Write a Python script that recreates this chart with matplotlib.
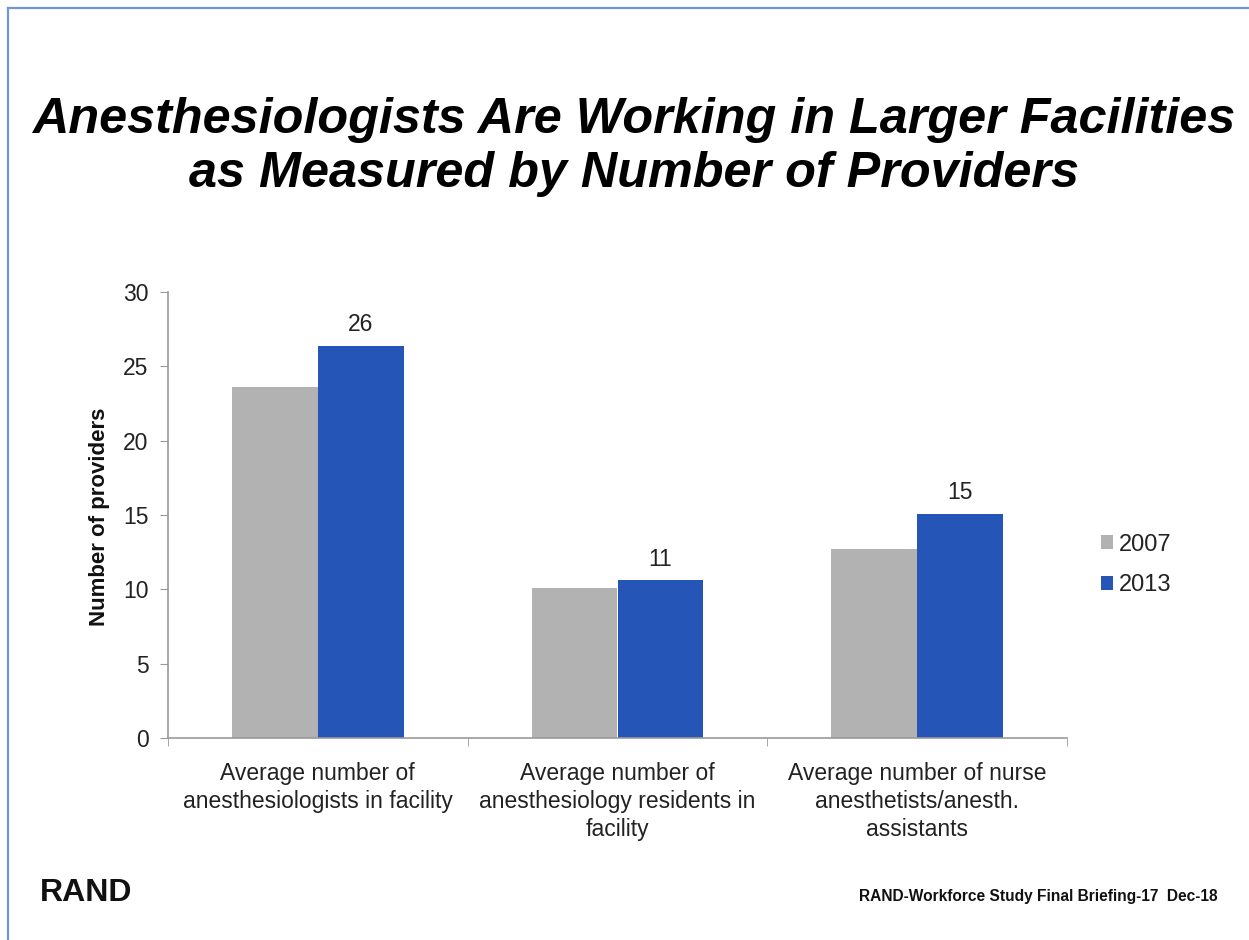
import matplotlib
matplotlib.use("Agg")
import matplotlib.pyplot as plt
from matplotlib.lines import Line2D
import numpy as np

plt.rcParams['font.family'] = ['Liberation Sans', 'DejaVu Sans']

categories = ["Average number of\nanesthesiologists in facility",
              "Average number of\nanesthesiology residents in\nfacility",
              "Average number of nurse\nanesthetists/anesth.\nassistants"]
years = ["2007", "2013"]
vals_2007 = [23.6, 10.1, 12.7]
vals_2013 = [26.4, 10.6, 15.1]
labels_2013 = ["26", "11", "15"]

gray = "#b2b2b2"
blue = "#2655b8"

fig = plt.figure(figsize=(12.49, 9.4), dpi=100)
ax = fig.add_axes([168 / 1249, 1 - 738 / 940, 899 / 1249, 446 / 940])

x = np.arange(len(categories))
w = 0.286
ax.bar(x - w / 2, vals_2007, w, color=gray, label=years[0])
b2 = ax.bar(x + w / 2, vals_2013, w, color=blue, label=years[1])
ax.bar_label(b2, labels=labels_2013, padding=7, fontsize=16.5, color="#222222")

ax.set_xlim(-0.5, 2.5)
ax.set_ylim(0, 30)
ax.set_yticks([0, 5, 10, 15, 20, 25, 30])
ax.set_xticks(x)
ax.set_xticklabels(categories, fontsize=16.5, color="#222222", linespacing=1.3)
ax.set_xticks([-0.5, 0.5, 1.5, 2.5], minor=True)
ax.tick_params(axis='x', which='major', length=0, pad=17)
ax.tick_params(axis='x', which='minor', length=6, color="#999999", direction='out')
ax.tick_params(axis='y', length=6, color="#999999", labelsize=16.5, labelcolor="#222222", pad=8)

for s in ["top", "right"]:
    ax.spines[s].set_visible(False)
for s in ["left", "bottom"]:
    ax.spines[s].set_color("#999999")
    ax.spines[s].set_linewidth(1.2)

ax.set_ylabel("Number of providers", fontsize=16, fontweight="bold", color="#111111")
ax.yaxis.set_label_coords(-0.064, 0.495)

leg = ax.legend(loc="center left", bbox_to_anchor=(1080 / 1249, 1 - 565 / 940),
                bbox_transform=fig.transFigure, frameon=False, fontsize=17,
                handlelength=0.5, handleheight=0.5, handletextpad=0.25,
                labelspacing=0.8)
for t in leg.get_texts():
    t.set_color("#222222")

fig.text(634 / 1249, 1 - 147 / 940,
         "Anesthesiologists Are Working in Larger Facilities\nas Measured by Number of Providers",
         ha="center", va="center", fontsize=36.3, fontweight="bold", style="italic",
         linespacing=1.22, color="black")

fig.text(40 / 1249, 1 - 893 / 940, "RAND", ha="left", va="center",
         fontsize=23, fontweight="bold", color="#111111")
fig.text(1218 / 1249, 1 - 896 / 940, "RAND-Workforce Study Final Briefing-17  Dec-18",
         ha="right", va="center", fontsize=11.2, fontweight="bold",
         family=["Liberation Sans Narrow", "Liberation Sans"], color="#111111")

# slide border (top and left edges)
fig.add_artist(Line2D([8 / 1249, 8 / 1249], [0, 1 - 8 / 940], transform=fig.transFigure,
                      color="#6d9bd1", lw=1.6))
fig.add_artist(Line2D([8 / 1249, 1], [1 - 8 / 940, 1 - 8 / 940], transform=fig.transFigure,
                      color="#6d9bd1", lw=1.6))

fig.savefig("out.png", dpi=100)
